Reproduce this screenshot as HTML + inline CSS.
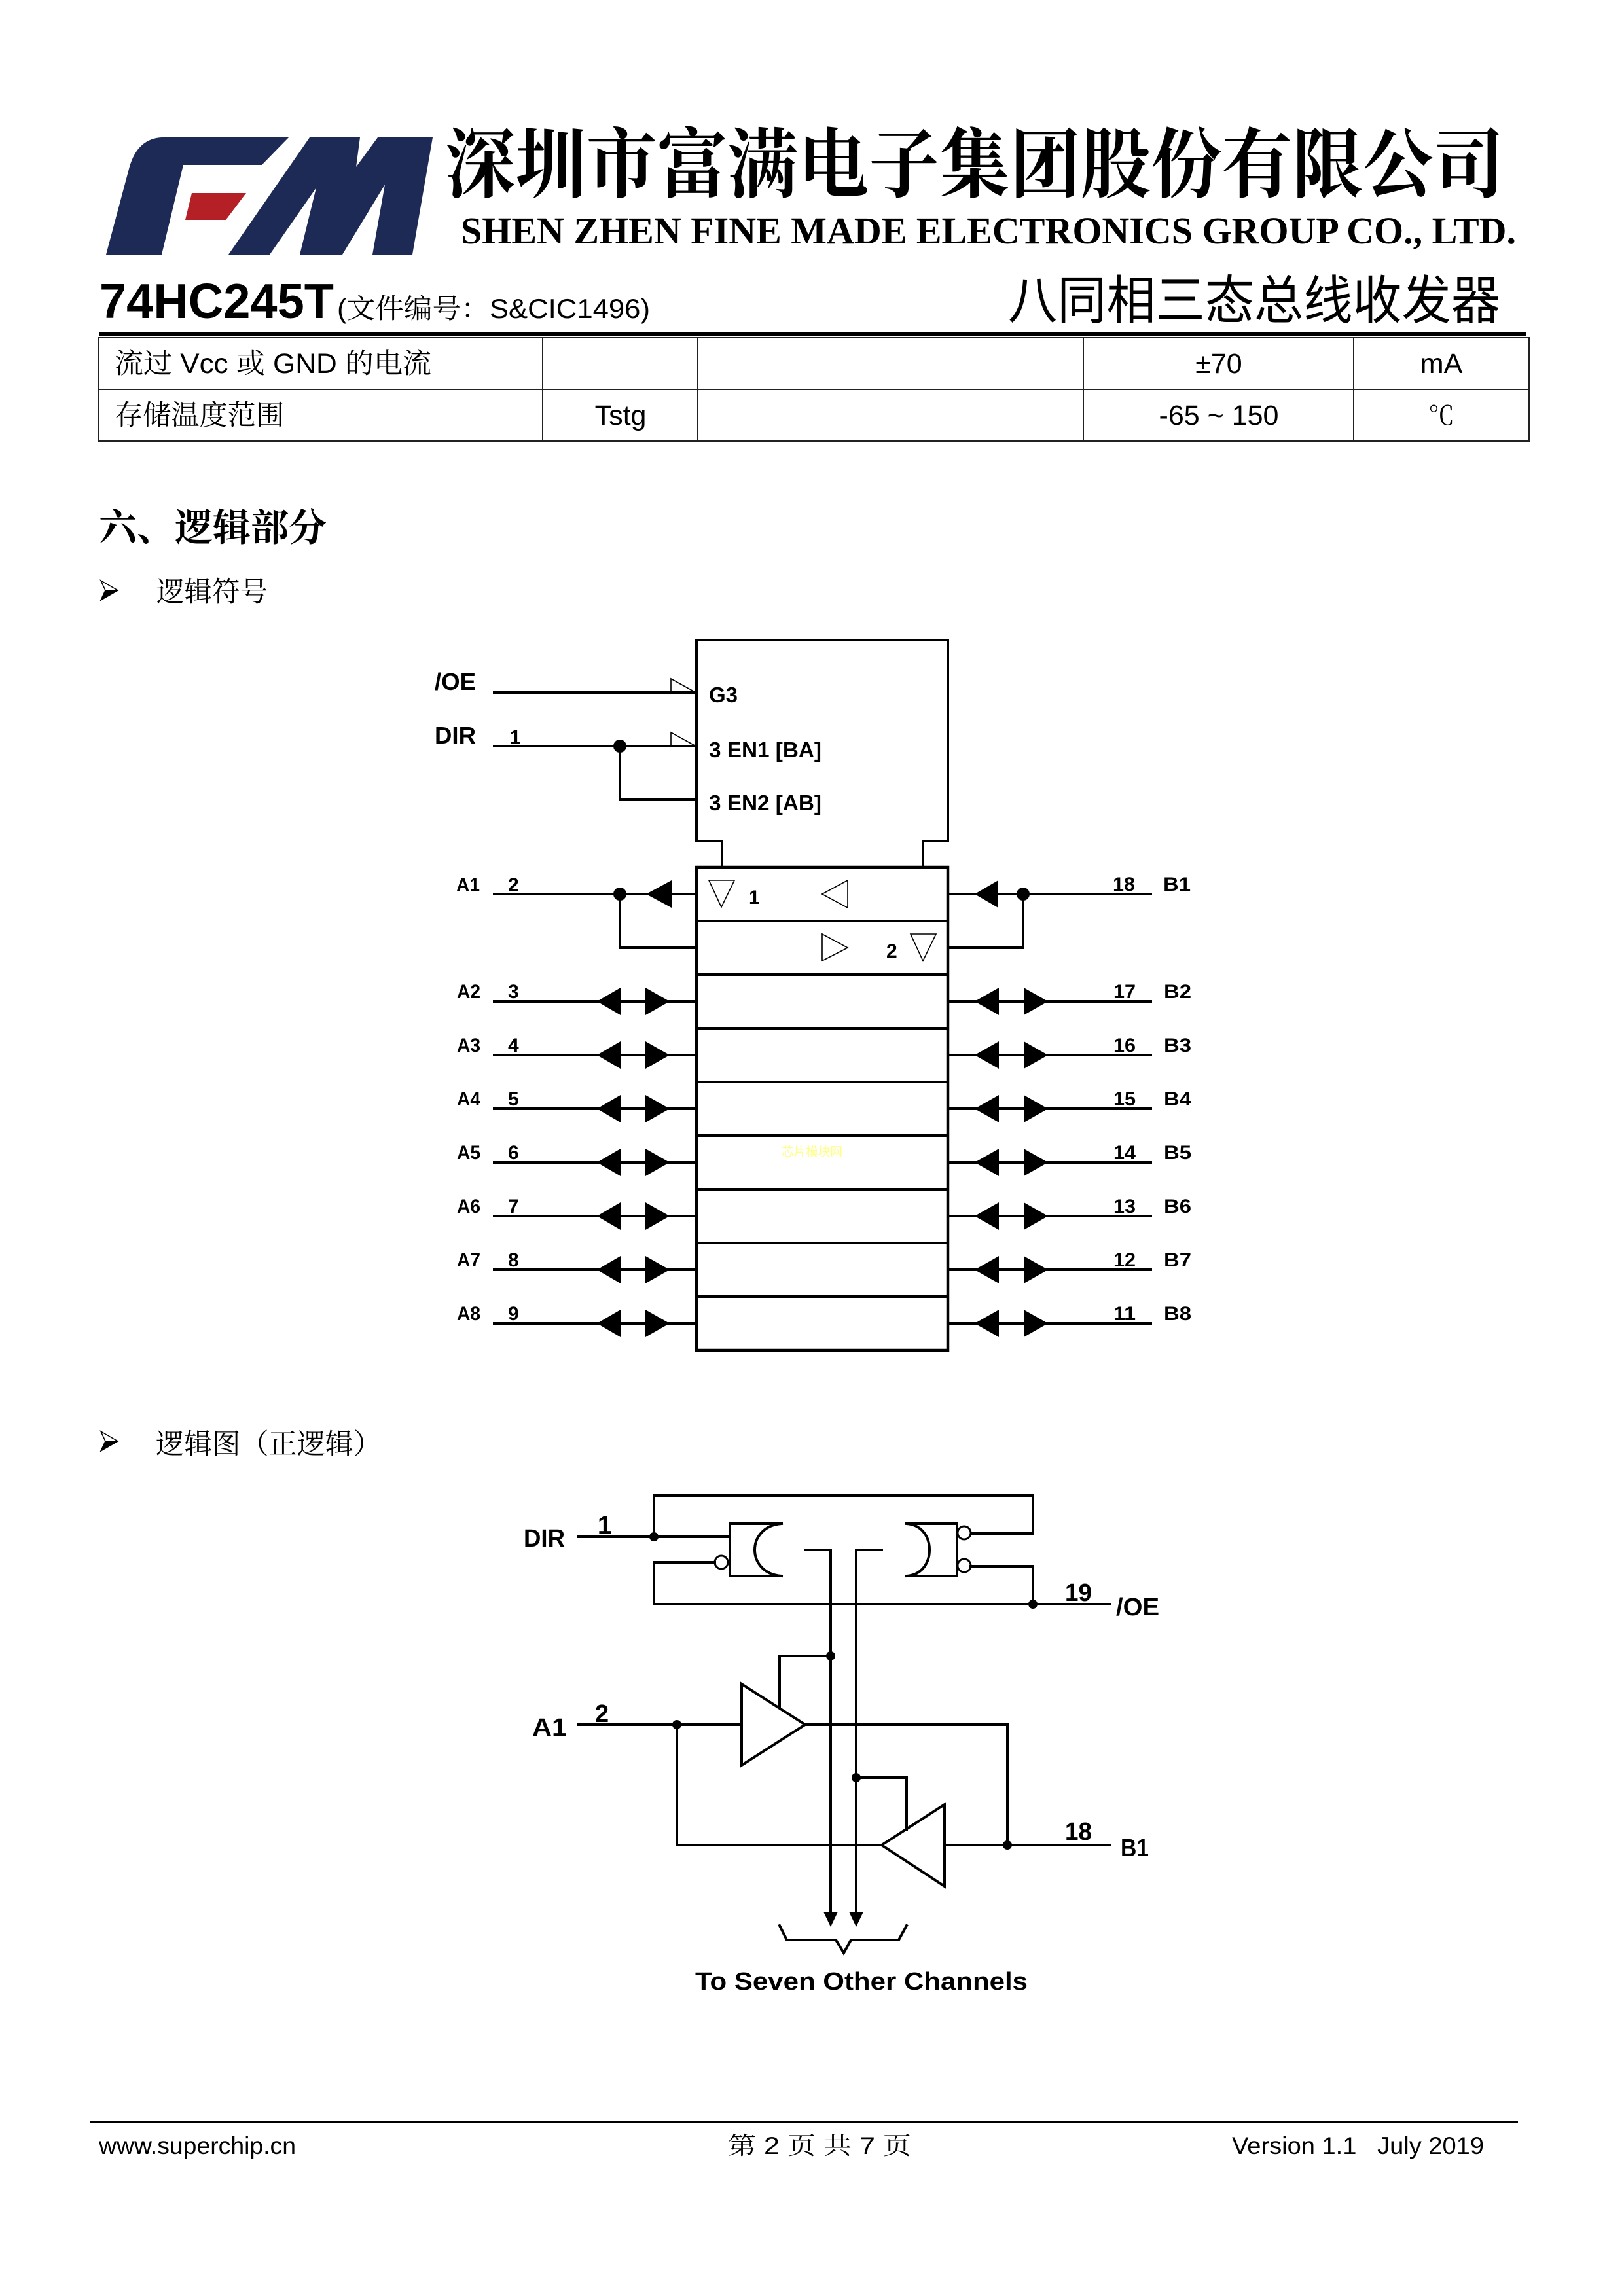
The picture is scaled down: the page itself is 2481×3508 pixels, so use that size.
<!DOCTYPE html>
<html>
<head>
<meta charset="utf-8">
<style>
html,body{margin:0;padding:0;background:#fff;}
body{width:2481px;height:3508px;overflow:hidden;position:relative;}
svg{position:absolute;left:0;top:0;}
.b{font-family:"Liberation Sans","Noto Sans CJK SC",sans-serif;font-weight:bold;fill:#000;}
.s{font-family:"Liberation Sans","Noto Serif CJK SC",serif;fill:#000;}
.song{font-family:"Liberation Sans","Noto Serif CJK SC",serif;fill:#000;}
.w{stroke:#000;stroke-width:4;fill:none;stroke-linecap:square;}
.t{stroke:#000;stroke-width:1.6;fill:none;}
.f{fill:#000;stroke:none;}
</style>
</head>
<body>
<svg width="2481" height="3508" viewBox="0 0 2481 3508" xmlns="http://www.w3.org/2000/svg">
<rect width="2481" height="3508" fill="#fff"/>

<!-- Logo -->
<path fill="#1d2a56" d="M162,389 L197,258 Q209,212 247,210 L441,210 L400,252 L280,252 L247,389 Z"/>
<path fill="#b51f26" d="M293,295 L376,295 L345,336 L283,336 Z"/>
<path fill="#1d2a56" d="M473,210 L550,210 L544,255 L577,210 L661,210 L630,389 L569,389 L588,282 L523,389 L458,389 L483,287 L412,389 L349,389 Z"/>

<!-- Header text -->
<text x="680" y="292" font-size="116" font-weight="bold" style="font-family:'Noto Serif CJK SC','Noto Sans CJK SC',serif" textLength="1618" lengthAdjust="spacingAndGlyphs">深圳市富满电子集团股份有限公司</text>
<text x="704" y="372" font-size="58" font-weight="bold" style="font-family:'Liberation Serif',serif" textLength="1612" lengthAdjust="spacingAndGlyphs">SHEN ZHEN FINE MADE ELECTRONICS GROUP CO., LTD.</text>
<text x="152" y="486" font-size="75" class="b" textLength="358" lengthAdjust="spacingAndGlyphs">74HC245T</text>
<text x="515" y="486" font-size="42" class="song" textLength="478" lengthAdjust="spacingAndGlyphs">(文件编号：S&amp;CIC1496)</text>
<text x="1540" y="487" font-size="80" style="font-family:'Noto Sans CJK SC',sans-serif" textLength="752" lengthAdjust="spacingAndGlyphs">八同相三态总线收发器</text>

<!-- Rule + table -->
<rect x="151" y="508" width="2180" height="5" fill="#000"/>
<rect x="151" y="516" width="2185" height="158" fill="none" stroke="#222" stroke-width="2"/>
<line x1="151" y1="595" x2="2336" y2="595" stroke="#222" stroke-width="2"/>
<line x1="829" y1="516" x2="829" y2="674" stroke="#222" stroke-width="2"/>
<line x1="1066" y1="516" x2="1066" y2="674" stroke="#222" stroke-width="2"/>
<line x1="1655" y1="516" x2="1655" y2="674" stroke="#222" stroke-width="2"/>
<line x1="2068" y1="516" x2="2068" y2="674" stroke="#222" stroke-width="2"/>
<text x="175" y="570" font-size="43" class="song" textLength="484" lengthAdjust="spacingAndGlyphs">流过 Vcc 或 GND  的电流</text>
<text x="1862" y="570" font-size="43" class="s" text-anchor="middle">±70</text>
<text x="2202" y="570" font-size="43" class="s" text-anchor="middle">mA</text>
<text x="175" y="649" font-size="43" class="song" textLength="259" lengthAdjust="spacingAndGlyphs">存储温度范围</text>
<text x="948" y="649" font-size="43" class="s" text-anchor="middle">Tstg</text>
<text x="1862" y="649" font-size="43" class="s" text-anchor="middle">-65 ~ 150</text>
<text x="2202" y="649" font-size="40" class="song" text-anchor="middle">℃</text>

<!-- Section heading + bullets -->
<text x="151" y="826" font-size="58" font-weight="bold" style="font-family:'Noto Serif CJK SC','Noto Sans CJK SC',serif" textLength="348" lengthAdjust="spacingAndGlyphs">六、逻辑部分</text>
<polygon points="154,887 180,902 154,917 161,902" fill="#fff" stroke="#000" stroke-width="1.5"/>
<polygon points="161,902 180,902 154,917" fill="#000"/>
<text x="239" y="919" font-size="43" class="song" textLength="170" lengthAdjust="spacingAndGlyphs">逻辑符号</text>

<polygon points="154,2187 180,2202 154,2217 161,2202" fill="#fff" stroke="#000" stroke-width="1.5"/>
<polygon points="161,2202 180,2202 154,2217" fill="#000"/>
<text x="238" y="2221" font-size="43" class="song" textLength="345" lengthAdjust="spacingAndGlyphs">逻辑图（正逻辑）</text>

<!-- ================= LOGIC SYMBOL ================= -->
<path class="w" stroke-width="4.5" d="M1103,1325 L1103,1285 L1064,1285 L1064,978 L1448,978 L1448,1285 L1410,1285 L1410,1325"/>
<rect x="1064" y="1325" width="384" height="738" fill="none" stroke="#000" stroke-width="4.5"/>
<g stroke="#000" stroke-width="4">
<line x1="1064" y1="1407" x2="1448" y2="1407"/>
<line x1="1064" y1="1489" x2="1448" y2="1489"/>
<line x1="1064" y1="1571" x2="1448" y2="1571"/>
<line x1="1064" y1="1653" x2="1448" y2="1653"/>
<line x1="1064" y1="1735" x2="1448" y2="1735"/>
<line x1="1064" y1="1817" x2="1448" y2="1817"/>
<line x1="1064" y1="1899" x2="1448" y2="1899"/>
<line x1="1064" y1="1981" x2="1448" y2="1981"/>
</g>

<!-- /OE & DIR -->
<line class="w" x1="755" y1="1058" x2="1063" y2="1058"/>
<polyline class="t" stroke-width="2.5" points="1025,1058 1025,1037 1063,1058"/>
<line class="w" x1="755" y1="1140" x2="1063" y2="1140"/>
<polyline class="t" stroke-width="2.5" points="1025,1140 1025,1119 1063,1140"/>
<polyline class="w" points="947,1140 947,1222 1063,1222"/>
<circle cx="947" cy="1140" r="10" class="f"/>
<text x="664" y="1054" font-size="36" class="b" textLength="63" lengthAdjust="spacingAndGlyphs">/OE</text>
<text x="664" y="1136" font-size="36" class="b" textLength="63" lengthAdjust="spacingAndGlyphs">DIR</text>
<text x="779" y="1136" font-size="30" class="b">1</text>
<text x="1083" y="1073" font-size="33" class="b" textLength="44" lengthAdjust="spacingAndGlyphs">G3</text>
<text x="1083" y="1157" font-size="33" class="b" textLength="172" lengthAdjust="spacingAndGlyphs">3 EN1 [BA]</text>
<text x="1083" y="1238" font-size="33" class="b" textLength="172" lengthAdjust="spacingAndGlyphs">3 EN2 [AB]</text>

<!-- Row 1 (A1/B1) -->
<line class="w" x1="755" y1="1366" x2="1063" y2="1366"/>
<polygon class="f" points="987,1366 1026,1345 1026,1387"/>
<circle cx="947" cy="1366" r="10" class="f"/>
<polyline class="w" points="947,1366 947,1448 1063,1448"/>
<line class="w" x1="1448" y1="1366" x2="1758" y2="1366"/>
<polygon class="f" points="1489,1366 1525,1345 1525,1387"/>
<circle cx="1563" cy="1366" r="10" class="f"/>
<polyline class="w" points="1563,1366 1563,1448 1448,1448"/>
<text x="697" y="1362" font-size="30" class="b" textLength="36" lengthAdjust="spacingAndGlyphs">A1</text>
<text x="776" y="1362" font-size="30" class="b">2</text>
<text x="1700" y="1361" font-size="30" class="b" textLength="34" lengthAdjust="spacingAndGlyphs">18</text>
<text x="1777" y="1361" font-size="30" class="b" textLength="42" lengthAdjust="spacingAndGlyphs">B1</text>

<!-- inner symbols -->
<polygon class="t" points="1083,1345 1122,1345 1102,1386"/>
<polygon class="t" points="1256,1366 1295,1345 1295,1387"/>
<polygon class="t" points="1256,1427 1256,1468 1295,1448"/>
<polygon class="t" points="1391,1427 1430,1427 1410,1468"/>
<text x="1144" y="1381" font-size="30" class="b">1</text>
<text x="1354" y="1463" font-size="30" class="b">2</text>

<!-- Channel rows -->
<g>
<line class="w" x1="755" y1="1530" x2="1063" y2="1530"/>
<polygon class="f" points="912,1530 948,1509 948,1551"/><polygon class="f" points="986,1509 1023,1530 986,1551"/>
<line class="w" x1="1448" y1="1530" x2="1758" y2="1530"/>
<polygon class="f" points="1489,1530 1526,1509 1526,1551"/><polygon class="f" points="1564,1509 1601,1530 1564,1551"/>
<text x="698" y="1525" font-size="30" class="b" textLength="36" lengthAdjust="spacingAndGlyphs">A2</text>
<text x="776" y="1525" font-size="30" class="b">3</text>
<text x="1701" y="1525" font-size="30" class="b" textLength="34" lengthAdjust="spacingAndGlyphs">17</text>
<text x="1778" y="1525" font-size="30" class="b" textLength="42" lengthAdjust="spacingAndGlyphs">B2</text>
</g>
<g>
<line class="w" x1="755" y1="1612" x2="1063" y2="1612"/>
<polygon class="f" points="912,1612 948,1591 948,1633"/><polygon class="f" points="986,1591 1023,1612 986,1633"/>
<line class="w" x1="1448" y1="1612" x2="1758" y2="1612"/>
<polygon class="f" points="1489,1612 1526,1591 1526,1633"/><polygon class="f" points="1564,1591 1601,1612 1564,1633"/>
<text x="698" y="1607" font-size="30" class="b" textLength="36" lengthAdjust="spacingAndGlyphs">A3</text>
<text x="776" y="1607" font-size="30" class="b">4</text>
<text x="1701" y="1607" font-size="30" class="b" textLength="34" lengthAdjust="spacingAndGlyphs">16</text>
<text x="1778" y="1607" font-size="30" class="b" textLength="42" lengthAdjust="spacingAndGlyphs">B3</text>
</g>
<g>
<line class="w" x1="755" y1="1694" x2="1063" y2="1694"/>
<polygon class="f" points="912,1694 948,1673 948,1715"/><polygon class="f" points="986,1673 1023,1694 986,1715"/>
<line class="w" x1="1448" y1="1694" x2="1758" y2="1694"/>
<polygon class="f" points="1489,1694 1526,1673 1526,1715"/><polygon class="f" points="1564,1673 1601,1694 1564,1715"/>
<text x="698" y="1689" font-size="30" class="b" textLength="36" lengthAdjust="spacingAndGlyphs">A4</text>
<text x="776" y="1689" font-size="30" class="b">5</text>
<text x="1701" y="1689" font-size="30" class="b" textLength="34" lengthAdjust="spacingAndGlyphs">15</text>
<text x="1778" y="1689" font-size="30" class="b" textLength="42" lengthAdjust="spacingAndGlyphs">B4</text>
</g>
<g>
<line class="w" x1="755" y1="1776" x2="1063" y2="1776"/>
<polygon class="f" points="912,1776 948,1755 948,1797"/><polygon class="f" points="986,1755 1023,1776 986,1797"/>
<line class="w" x1="1448" y1="1776" x2="1758" y2="1776"/>
<polygon class="f" points="1489,1776 1526,1755 1526,1797"/><polygon class="f" points="1564,1755 1601,1776 1564,1797"/>
<text x="698" y="1771" font-size="30" class="b" textLength="36" lengthAdjust="spacingAndGlyphs">A5</text>
<text x="776" y="1771" font-size="30" class="b">6</text>
<text x="1701" y="1771" font-size="30" class="b" textLength="34" lengthAdjust="spacingAndGlyphs">14</text>
<text x="1778" y="1771" font-size="30" class="b" textLength="42" lengthAdjust="spacingAndGlyphs">B5</text>
</g>
<g>
<line class="w" x1="755" y1="1858" x2="1063" y2="1858"/>
<polygon class="f" points="912,1858 948,1837 948,1879"/><polygon class="f" points="986,1837 1023,1858 986,1879"/>
<line class="w" x1="1448" y1="1858" x2="1758" y2="1858"/>
<polygon class="f" points="1489,1858 1526,1837 1526,1879"/><polygon class="f" points="1564,1837 1601,1858 1564,1879"/>
<text x="698" y="1853" font-size="30" class="b" textLength="36" lengthAdjust="spacingAndGlyphs">A6</text>
<text x="776" y="1853" font-size="30" class="b">7</text>
<text x="1701" y="1853" font-size="30" class="b" textLength="34" lengthAdjust="spacingAndGlyphs">13</text>
<text x="1778" y="1853" font-size="30" class="b" textLength="42" lengthAdjust="spacingAndGlyphs">B6</text>
</g>
<g>
<line class="w" x1="755" y1="1940" x2="1063" y2="1940"/>
<polygon class="f" points="912,1940 948,1919 948,1961"/><polygon class="f" points="986,1919 1023,1940 986,1961"/>
<line class="w" x1="1448" y1="1940" x2="1758" y2="1940"/>
<polygon class="f" points="1489,1940 1526,1919 1526,1961"/><polygon class="f" points="1564,1919 1601,1940 1564,1961"/>
<text x="698" y="1935" font-size="30" class="b" textLength="36" lengthAdjust="spacingAndGlyphs">A7</text>
<text x="776" y="1935" font-size="30" class="b">8</text>
<text x="1701" y="1935" font-size="30" class="b" textLength="34" lengthAdjust="spacingAndGlyphs">12</text>
<text x="1778" y="1935" font-size="30" class="b" textLength="42" lengthAdjust="spacingAndGlyphs">B7</text>
</g>
<g>
<line class="w" x1="755" y1="2022" x2="1063" y2="2022"/>
<polygon class="f" points="912,2022 948,2001 948,2043"/><polygon class="f" points="986,2001 1023,2022 986,2043"/>
<line class="w" x1="1448" y1="2022" x2="1758" y2="2022"/>
<polygon class="f" points="1489,2022 1526,2001 1526,2043"/><polygon class="f" points="1564,2001 1601,2022 1564,2043"/>
<text x="698" y="2017" font-size="30" class="b" textLength="36" lengthAdjust="spacingAndGlyphs">A8</text>
<text x="776" y="2017" font-size="30" class="b">9</text>
<text x="1701" y="2017" font-size="30" class="b" textLength="34" lengthAdjust="spacingAndGlyphs">11</text>
<text x="1778" y="2017" font-size="30" class="b" textLength="42" lengthAdjust="spacingAndGlyphs">B8</text>
</g>
<text x="1194" y="1766" font-size="19" style="font-family:'Noto Sans CJK SC',sans-serif" fill="#ffff88" textLength="93" lengthAdjust="spacingAndGlyphs">芯片模块网</text>

<!-- ================= LOGIC DIAGRAM ================= -->
<polyline class="w" points="999,2348 999,2285 1578,2285 1578,2343 1483,2343"/>
<line class="w" x1="883" y1="2348" x2="1115" y2="2348"/>
<circle cx="999" cy="2348" r="7" class="f"/>
<path class="w" d="M1194,2328 L1115,2328 L1115,2408 L1194,2408 M1194,2328 C1166,2330 1153,2350 1153,2368 C1153,2386 1166,2406 1194,2408"/>
<circle cx="1102" cy="2387" r="10" fill="#fff" stroke="#000" stroke-width="3"/>
<polyline class="w" points="1092,2387 999,2387 999,2451 1695,2451"/>
<path class="w" d="M1385,2328 L1462,2328 L1462,2408 L1385,2408 M1385,2328 C1410,2330 1420,2350 1420,2368 C1420,2386 1410,2406 1385,2408"/>
<circle cx="1473" cy="2342" r="10" fill="#fff" stroke="#000" stroke-width="3"/>
<circle cx="1473" cy="2392" r="10" fill="#fff" stroke="#000" stroke-width="3"/>
<polyline class="w" points="1483,2393 1578,2393 1578,2451"/>
<circle cx="1578" cy="2451" r="7" class="f"/>
<polyline class="w" points="1231,2368 1269,2368 1269,2924"/>
<polyline class="w" points="1347,2368 1308,2368 1308,2924"/>
<polygon class="f" points="1258,2921 1280,2921 1269,2944"/>
<polygon class="f" points="1297,2921 1319,2921 1308,2944"/>

<polygon class="w" points="1133,2573 1133,2697 1230,2635"/>
<polyline class="w" points="1269,2530 1191,2530 1191,2608"/>
<circle cx="1269" cy="2530" r="7" class="f"/>
<line class="w" x1="883" y1="2635" x2="1133" y2="2635"/>
<circle cx="1034" cy="2635" r="7" class="f"/>
<polyline class="w" points="1034,2635 1034,2819 1347,2819"/>
<polyline class="w" points="1230,2635 1539,2635 1539,2819"/>
<polygon class="w" points="1347,2819 1443,2757 1443,2882"/>
<polyline class="w" points="1308,2716 1385,2716 1385,2795"/>
<circle cx="1308" cy="2716" r="7" class="f"/>
<line class="w" x1="1443" y1="2819" x2="1695" y2="2819"/>
<circle cx="1539" cy="2819" r="7" class="f"/>
<polyline class="w" stroke-linejoin="miter" points="1191,2942 1202,2964 1277,2964 1289,2984 1300,2964 1373,2964 1385,2942"/>

<text x="800" y="2363" font-size="38" class="b" textLength="63" lengthAdjust="spacingAndGlyphs">DIR</text>
<text x="913" y="2343" font-size="38" class="b">1</text>
<text x="1627" y="2446" font-size="38" class="b" textLength="41" lengthAdjust="spacingAndGlyphs">19</text>
<text x="1705" y="2468" font-size="38" class="b" textLength="66" lengthAdjust="spacingAndGlyphs">/OE</text>
<text x="813" y="2652" font-size="38" class="b" textLength="53" lengthAdjust="spacingAndGlyphs">A1</text>
<text x="909" y="2631" font-size="38" class="b">2</text>
<text x="1627" y="2811" font-size="38" class="b" textLength="41" lengthAdjust="spacingAndGlyphs">18</text>
<text x="1712" y="2836" font-size="38" class="b" textLength="43" lengthAdjust="spacingAndGlyphs">B1</text>
<text x="1062" y="3040" font-size="38" class="b" textLength="508" lengthAdjust="spacingAndGlyphs">To Seven Other Channels</text>

<!-- Footer -->
<rect x="137" y="3240" width="2182" height="3.5" fill="#000"/>
<text x="151" y="3291" font-size="37" class="s" textLength="301" lengthAdjust="spacingAndGlyphs">www.superchip.cn</text>
<text x="1112" y="3291" font-size="37" class="song" textLength="280" lengthAdjust="spacingAndGlyphs" xml:space="preserve">第 2 页 共 7 页</text>
<text x="1882" y="3291" font-size="37" class="s" textLength="385" lengthAdjust="spacingAndGlyphs" xml:space="preserve">Version 1.1   July 2019</text>
</svg>
</body>
</html>
